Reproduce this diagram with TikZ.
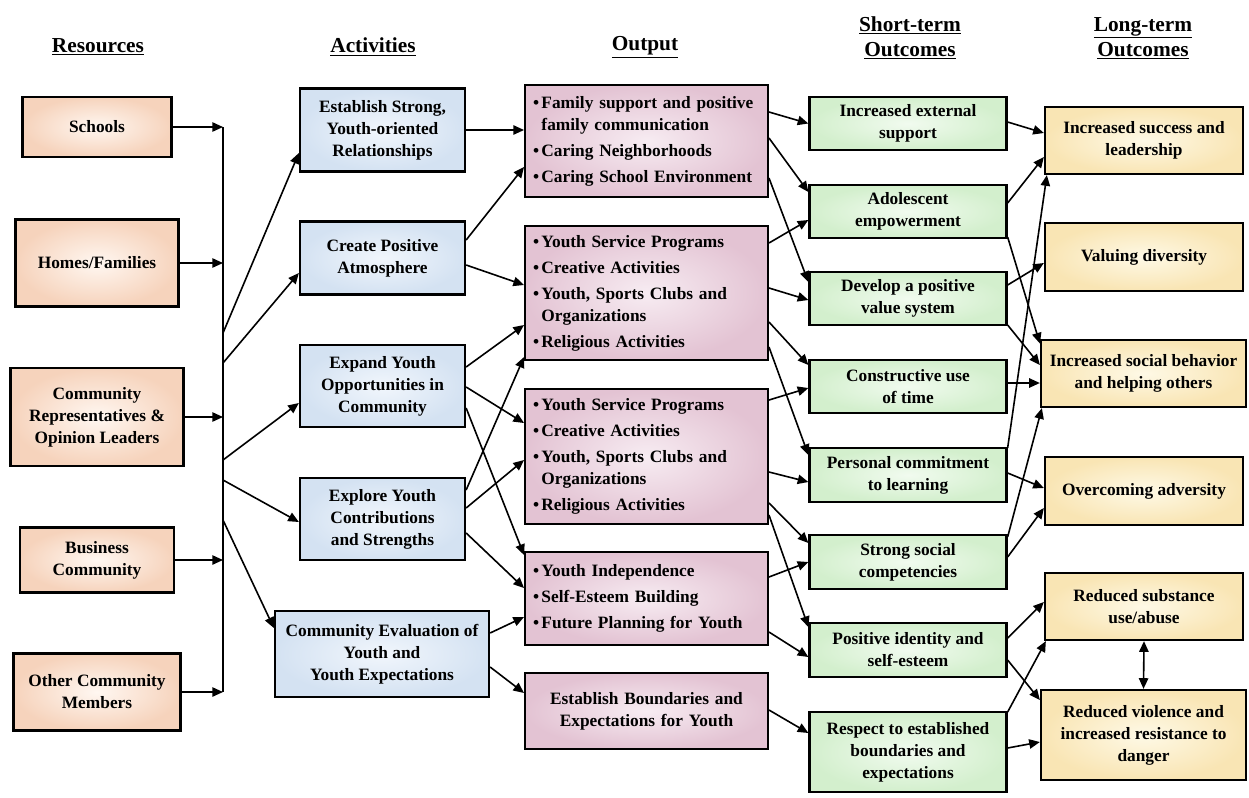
\documentclass[tikz,border=0pt]{standalone}
\usepackage{fontspec}
\setmainfont{Liberation Serif}
\usepackage{tikz}
\usetikzlibrary{arrows.meta, calc, positioning}

\definecolor{resOut}{RGB}{246,211,188}
\definecolor{resIn}{RGB}{255,247,241}
\definecolor{actOut}{RGB}{212,226,242}
\definecolor{actIn}{RGB}{241,246,252}
\definecolor{outOut}{RGB}{227,195,211}
\definecolor{outIn}{RGB}{247,236,242}
\definecolor{stOut}{RGB}{211,239,205}
\definecolor{stIn}{RGB}{241,251,239}
\definecolor{ltOut}{RGB}{249,229,180}
\definecolor{ltIn}{RGB}{254,249,230}

\newcommand{\bul}{\makebox[0.48em][l]{\textbullet}}
\newcommand{\bulgap}{\hspace*{0.48em}}

\begin{document}
\begin{tikzpicture}[x=0.75pt, y=-0.75pt,
        % --- Style Definitions ---
        box/.style={rectangle, draw=black, line width=1.7pt, align=center, inner sep=2pt, font=\fontsize{13}{16.5}\selectfont\bfseries},
        res_style/.style={box, inner color=resIn, outer color=resOut},
        act_style/.style={box, inner color=actIn, outer color=actOut},
        out_style/.style={box, align=left, inner color=outIn, outer color=outOut, text width=170pt, inner xsep=6pt, minimum height=#1},
        st_style/.style={box, inner color=stIn, outer color=stOut, minimum width=147.75pt},
        lt_style/.style={box, inner color=ltIn, outer color=ltOut},
        header/.style={align=center, font=\fontsize{16}{18.75}\selectfont\bfseries},
        arrow/.style={-{Triangle[length=8pt, width=7pt]}, line width=1.2pt},
        line/.style={line width=1.5pt}
    ]

        % --- Frame ---
        \useasboundingbox (0,0) rectangle (1249,797);

        % --- Column Headers ---
        \node[header] (h_res) at (98,47)   {\underline{Resources}};
        \node[header] (h_act) at (373,47)  {\underline{Activities}};
        \node[header] (h_out) at (645,47)  {\underline{Output}};
        \node[header] (h_st)  at (910,38)  {\underline{Short-term}\\\underline{Outcomes}};
        \node[header] (h_lt)  at (1143,38) {\underline{Long-term}\\\underline{Outcomes}};

        % --- Resources ---
        \node[res_style, minimum width=111.75pt, minimum height=45pt]    (res_sch)  at (97,127) {Schools};
        \node[res_style, minimum width=122.25pt, minimum height=65.25pt] (res_home) at (97,263) {Homes/Families};
        \node[res_style, minimum width=129.75pt, minimum height=73.5pt]  (res_comm) at (97,417) {Community\\Representatives \&\\Opinion Leaders};
        \node[res_style, minimum width=115.5pt,  minimum height=48.75pt] (res_bus)  at (97,560) {Business\\Community};
        \node[res_style, minimum width=125.25pt, minimum height=57.75pt] (res_oth)  at (97,692) {Other Community\\Members};

        % --- Collecting Line ---
        \coordinate (bus_top) at (223,127);
        \coordinate (bus_bot) at (223,692);
        \coordinate (bus_a) at (223,333);
        \coordinate (bus_b) at (223,363);
        \coordinate (bus_c) at (223,460);
        \coordinate (bus_d) at (223,480);
        \coordinate (bus_e) at (223,520);
        \draw[line] (bus_top) -- (bus_bot);

        % --- Activities ---
        \node[act_style, minimum width=123.75pt, minimum height=62.25pt] (act_rel)  at (382.5,130) {Establish Strong,\\Youth-oriented\\Relationships};
        \node[act_style, minimum width=123.75pt, minimum height=54.75pt] (act_atm)  at (382.5,258) {Create Positive\\Atmosphere};
        \node[act_style, minimum width=123.75pt, minimum height=61.5pt]  (act_opp)  at (382.5,386) {Expand Youth\\Opportunities in\\Community};
        \node[act_style, minimum width=123.75pt, minimum height=61.5pt]  (act_con)  at (382.5,519) {Explore Youth\\Contributions\\and Strengths};
        \node[act_style, minimum width=160.5pt,  minimum height=64.5pt]  (act_eval) at (382,654)   {Community Evaluation of\\Youth and\\Youth Expectations};

        % --- Output ---
        \node[out_style=84pt] (out_fam) at (646.5,141)
            {\bul Family support and positive\\\bulgap family communication\\[3pt]\bul Caring Neighborhoods\\[3pt]\bul Caring School Environment};
        \node[out_style=100.5pt] (out_prog1) at (646.5,293)
            {\bul Youth Service Programs\\[3pt]\bul Creative Activities\\[3pt]\bul Youth, Sports Clubs and\\\bulgap Organizations\\[3pt]\bul Religious Activities};
        \node[out_style=101.25pt] (out_prog2) at (646.5,456.5)
            {\bul Youth Service Programs\\[3pt]\bul Creative Activities\\[3pt]\bul Youth, Sports Clubs and\\\bulgap Organizations\\[3pt]\bul Religious Activities};
        \node[out_style=69.75pt] (out_ind) at (646.5,598.5)
            {\bul Youth Independence\\[3pt]\bul Self-Esteem Building\\[3pt]\bul Future Planning for Youth};
        \node[out_style=57pt, align=center] (out_bnd) at (646.5,711)
            {Establish Boundaries and\\Expectations for Youth};

        % --- Short-term Outcomes ---
        \node[st_style, minimum height=39.75pt] (st_ext)   at (908,123.5) {Increased external\\support};
        \node[st_style, minimum height=39.75pt] (st_emp)   at (908,211.5) {Adolescent\\empowerment};
        \node[st_style, minimum height=39.75pt] (st_val)   at (908,298.5) {Develop a positive\\value system};
        \node[st_style, minimum height=39.75pt] (st_time)  at (908,386.5) {Constructive use\\of time};
        \node[st_style, minimum height=40.5pt]  (st_learn) at (908,475)   {Personal commitment\\to learning};
        \node[st_style, minimum height=40.5pt]  (st_soc)   at (908,562)   {Strong social\\competencies};
        \node[st_style, minimum height=40.5pt]  (st_id)    at (908,650)   {Positive identity and\\self-esteem};
        \node[st_style, minimum height=60pt]    (st_resp)  at (908,752)   {Respect to established\\boundaries and\\expectations};

        % --- Long-term Outcomes ---
        \node[lt_style, minimum width=148.5pt,  minimum height=50.25pt] (lt_succ) at (1144,140.5) {Increased success and\\leadership};
        \node[lt_style, minimum width=148.5pt,  minimum height=51pt]    (lt_div)  at (1144,257)   {Valuing diversity};
        \node[lt_style, minimum width=153.75pt, minimum height=50.25pt] (lt_soc)  at (1143.5,373.5) {Increased social behavior\\and helping others};
        \node[lt_style, minimum width=148.5pt,  minimum height=51pt]    (lt_adv)  at (1144,491)   {Overcoming adversity};
        \node[lt_style, minimum width=148.5pt,  minimum height=50.25pt] (lt_sub)  at (1144,606.5) {Reduced substance\\use/abuse};
        \node[lt_style, minimum width=153.75pt, minimum height=67.5pt]  (lt_vio)  at (1143.5,735) {Reduced violence and\\increased resistance to\\danger};

        % --- Resources to Collecting Line ---
        \draw[arrow] (res_sch.east)  -- (res_sch.east -| bus_top);
        \draw[arrow] (res_home.east) -- (res_home.east -| bus_top);
        \draw[arrow] (res_comm.east) -- (res_comm.east -| bus_top);
        \draw[arrow] (res_bus.east)  -- (res_bus.east -| bus_top);
        \draw[arrow] (res_oth.east)  -- (res_oth.east -| bus_top);

        % --- Collecting Line to Activities ---
        \draw[arrow] (bus_a) -- ($(act_rel.west)+(0,23)$);
        \draw[arrow] (bus_b) -- ($(act_atm.west)+(0,15)$);
        \draw[arrow] (bus_c) -- ($(act_opp.west)+(0,17)$);
        \draw[arrow] (bus_d) -- ($(act_con.west)+(0,3)$);
        \draw[arrow] (bus_e) -- ($(act_eval.west)+(0,-26)$);

        % --- Activities to Output ---
        \draw[arrow] (act_rel.east) -- ($(out_fam.west)+(0,-11)$);
        \draw[arrow] ($(act_atm.east)+(0,-18)$) -- ($(out_fam.west)+(0,26)$);
        \draw[arrow] ($(act_atm.east)+(0,7)$) -- ($(out_prog1.west)+(0,-8)$);
        \draw[arrow] ($(act_opp.east)+(0,-19)$) -- ($(out_prog1.west)+(0,32)$);
        \draw[arrow] ($(act_opp.east)+(0,1)$) -- ($(out_prog2.west)+(0,-33.5)$);
        \draw[arrow] ($(act_opp.east)+(0,22)$) -- ($(out_ind.west)+(0,-43.5)$);
        \draw[arrow] ($(act_con.east)+(0,-29)$) -- ($(out_prog1.west)+(0,64)$);
        \draw[arrow] ($(act_con.east)+(0,-11)$) -- ($(out_prog2.west)+(0,3.5)$);
        \draw[arrow] ($(act_con.east)+(0,14)$) -- ($(out_ind.west)+(0,-10.5)$);
        \draw[arrow] ($(act_eval.east)+(0,-21)$) -- ($(out_ind.west)+(0,18.5)$);
        \draw[arrow] ($(act_eval.east)+(0,13)$) -- ($(out_bnd.west)+(0,-18)$);

        % --- Output to Short-term Outcomes ---
        \draw[arrow] ($(out_fam.east)+(0,-29)$) -- (st_ext.west);
        \draw[arrow] ($(out_fam.east)+(0,-3)$) -- ($(st_emp.west)+(0,-19.5)$);
        \draw[arrow] ($(out_fam.east)+(0,37)$) -- ($(st_val.west)+(0,-16.5)$);
        \draw[arrow] ($(out_prog1.east)+(0,-50)$) -- ($(st_emp.west)+(0,8.5)$);
        \draw[arrow] ($(out_prog1.east)+(0,-5)$) -- ($(st_val.west)+(0,1.5)$);
        \draw[arrow] ($(out_prog1.east)+(0,29)$) -- ($(st_time.west)+(0,-21.5)$);
        \draw[arrow] ($(out_prog1.east)+(0,54)$) -- ($(st_learn.west)+(0,-20)$);
        \draw[arrow] ($(out_prog2.east)+(0,-56.5)$) -- ($(st_time.west)+(0,1.5)$);
        \draw[arrow] ($(out_prog2.east)+(0,15.5)$) -- ($(st_learn.west)+(0,7)$);
        \draw[arrow] ($(out_prog2.east)+(0,46.5)$) -- ($(st_soc.west)+(0,-19)$);
        \draw[arrow] ($(out_prog2.east)+(0,58.5)$) -- ($(st_id.west)+(0,-23)$);
        \draw[arrow] ($(out_ind.east)+(0,-21.5)$) -- (st_soc.west);
        \draw[arrow] ($(out_ind.east)+(0,33.5)$) -- ($(st_id.west)+(0,7)$);
        \draw[arrow] ($(out_bnd.east)+(0,-1)$) -- ($(st_resp.west)+(0,-19)$);

        % --- Short-term to Long-term Outcomes ---
        \draw[arrow] ($(st_ext.east)+(0,-1.5)$) -- ($(lt_succ.west)+(0,-7.5)$);
        \draw[arrow] ($(st_emp.east)+(0,-8.5)$) -- ($(lt_succ.west)+(0,16.5)$);
        \draw[arrow] ($(st_emp.east)+(0,25.5)$) -- ($(lt_soc.west)+(0,-30)$);
        \draw[arrow] ($(st_val.east)+(0,-13.5)$) -- ($(lt_div.west)+(0,6)$);
        \draw[arrow] ($(st_val.east)+(0,26.5)$) -- ($(lt_soc.west)+(0,-8.5)$);
        \draw[arrow] ($(st_time.east)+(0,-3.5)$) -- ($(lt_soc.west)+(0,9.5)$);
        \draw[arrow] ($(st_learn.east)+(0,-27)$) -- ($(lt_succ.south west)+(3,0)$);
        \draw[arrow] ($(st_learn.east)+(0,-2)$) -- ($(lt_adv.west)+(0,-3)$);
        \draw[arrow] ($(st_soc.east)+(0,-25)$) -- ($(lt_soc.south west)+(2,0)$);
        \draw[arrow] ($(st_soc.east)+(0,-5)$) -- ($(lt_adv.west)+(0,17)$);
        \draw[arrow] ($(st_id.east)+(0,-12)$) -- ($(lt_sub.west)+(0,-4.5)$);
        \draw[arrow] ($(st_id.east)+(0,10)$) -- ($(lt_vio.west)+(0,-35)$);
        \draw[arrow] ($(st_resp.east)+(0,-40)$) -- ($(lt_sub.south west)+(2,0)$);
        \draw[arrow] ($(st_resp.east)+(0,-4)$) -- ($(lt_vio.west)+(0,7)$);

        % --- Two-way Link ---
        \draw[arrow, {Triangle[length=8pt, width=7pt]}-{Triangle[length=8pt, width=7pt]}] (lt_sub.south) -- (lt_vio.north);

\end{tikzpicture}
\end{document}
